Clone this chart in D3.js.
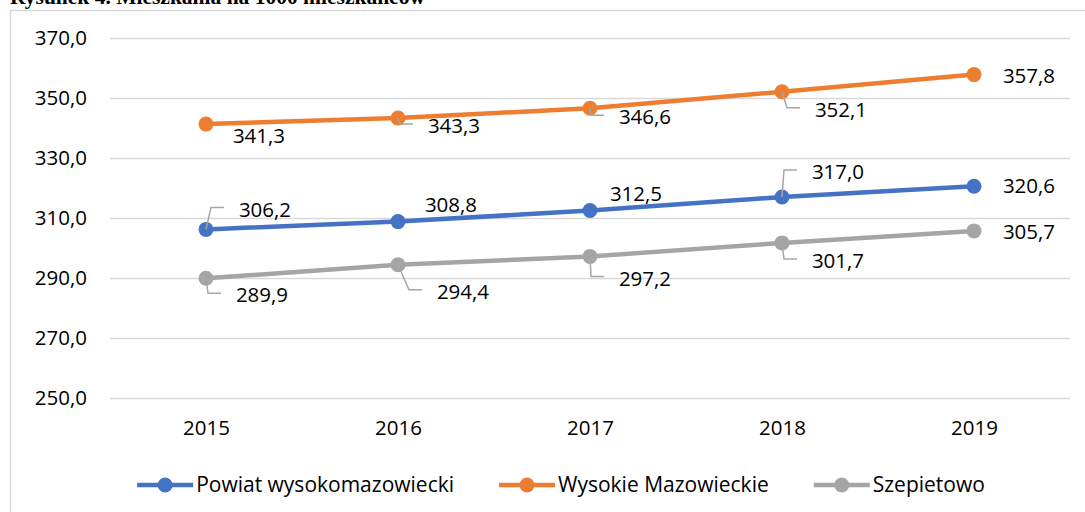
<!DOCTYPE html>
<html lang="pl">
<head>
  <meta charset="UTF-8">
  <title>Mieszkania na 1000 mieszkańców</title>
  <script src="https://d3js.org/d3.v7.min.js"></script>
  <style>
    body { margin: 0; background: #fff; }
    svg { display: block; }
  </style>
</head>
<body>
  <div id="chart"></div>

  <script>
    // data
    const years = ["2015", "2016", "2017", "2018", "2019"];
    const powiat = [306.2, 308.8, 312.5, 317.0, 320.6];
    const wysokie = [341.3, 343.3, 346.6, 352.1, 357.8];
    const szepietowo = [289.9, 294.4, 297.2, 301.7, 305.7];
    const seriesNames = ["Powiat wysokomazowiecki", "Wysokie Mazowieckie", "Szepietowo"];
    const yTicks = [250, 270, 290, 310, 330, 350, 370];

    const width = 1085;
    const height = 512;
    const font = "'Open Sans', sans-serif";
    const fontSize = "20.5px";
    const colors = ["#4472C4", "#ED7D31", "#A5A5A5"];

    // label placement (offset of the label centre from its point, and whether a leader line is drawn)
    const labelPlacement = [
      { off: [[59, -20], [53, -17], [46, -17], [56, -25], [55, 0]], leader: [1, 0, 0, 1, 0] },
      { off: [[53, 12], [56, 8], [55, 9], [59, 18], [55, 1]], leader: [0, 1, 1, 1, 0] },
      { off: [[56, 17], [65, 27], [55, 22], [56, 18], [55, 1]], leader: [1, 1, 1, 1, 0] }
    ];

    const series = [powiat, wysokie, szepietowo].map((vals, i) => ({
      name: seriesNames[i],
      color: colors[i],
      place: labelPlacement[i],
      values: vals.map((v, j) => ({ year: years[j], value: v }))
    }));

    const svg = d3.select("#chart")
      .append("svg")
      .attr("width", width)
      .attr("height", height);

    // title, cut off by the top edge as in the original
    svg.append("text")
      .attr("x", 10)
      .attr("y", 4)
      .style("font-family", "'Liberation Serif', 'Times New Roman', serif")
      .style("font-weight", "bold")
      .style("font-size", "21.5px")
      .text("Rysunek 4. Mieszkania na 1000 mieszkańców");

    // chart area border
    svg.append("rect")
      .attr("x", 10.5)
      .attr("y", 10.5)
      .attr("width", 1100)
      .attr("height", 520)
      .attr("fill", "none")
      .attr("stroke", "#d9d9d9")
      .attr("stroke-width", 1.5);

    const x = d3.scalePoint()
      .domain(years)
      .range([110, 1070])
      .padding(0.5);

    const y = d3.scaleLinear()
      .domain([250, 370])
      .range([398, 38]);

    const fmt = v => d3.format(".1f")(v).replace(".", ",");

    // gridlines and axis labels
    const yAxis = svg.append("g")
      .attr("class", "y axis")
      .attr("transform", "translate(110,0)")
      .call(d3.axisLeft(y).tickValues(yTicks).tickSize(-960).tickPadding(23).tickFormat(fmt));
    yAxis.select(".domain").remove();
    yAxis.selectAll(".tick line")
      .attr("stroke", "#d9d9d9")
      .attr("stroke-width", 1.5);
    yAxis.selectAll(".tick text")
      .style("font-family", font)
      .style("font-size", fontSize)
      .attr("fill", "#000");

    const xAxis = svg.append("g")
      .attr("class", "x axis")
      .attr("transform", "translate(0,398)")
      .call(d3.axisBottom(x).tickSize(0).tickPadding(22));
    xAxis.select(".domain").remove();
    xAxis.selectAll(".tick text")
      .style("font-family", font)
      .style("font-size", fontSize)
      .attr("fill", "#000");

    const line = d3.line()
      .x(d => x(d.year))
      .y(d => y(d.value));

    const g = svg.selectAll(".series")
      .data(series)
      .enter().append("g")
      .attr("class", "series");

    g.append("path")
      .attr("d", d => line(d.values))
      .attr("fill", "none")
      .attr("stroke", d => d.color)
      .attr("stroke-width", 4.5)
      .attr("stroke-linejoin", "round");

    g.selectAll("circle")
      .data(d => d.values.map(v => ({ ...v, color: d.color })))
      .enter().append("circle")
      .attr("cx", d => x(d.year))
      .attr("cy", d => y(d.value))
      .attr("r", 7.5)
      .attr("fill", d => d.color);

    // leader lines and data labels
    const labelW = 54;
    series.forEach(s => {
      s.values.forEach((d, j) => {
        const px = x(d.year), py = y(d.value);
        const [dx, dy] = s.place.off[j];
        if (s.place.leader[j]) {
          const left = dx - labelW / 2;
          svg.append("polyline")
            .attr("points", [[px, py], [px + left - 27, py + dy - 2], [px + left - 14, py + dy - 2]].join(" "))
            .attr("fill", "none")
            .attr("stroke", "#a6a6a6")
            .attr("stroke-width", 1.5);
        }
        svg.append("text")
          .attr("x", px + dx)
          .attr("y", py + dy)
          .attr("dy", "0.35em")
          .attr("text-anchor", "middle")
          .style("font-family", font)
          .style("font-size", fontSize)
          .attr("fill", "#000")
          .text(fmt(d.value));
      });
    });

    // legend
    const legend = svg.append("g").attr("class", "legend");
    let lx = 0;
    series.forEach(s => {
      const item = legend.append("g").attr("transform", `translate(${lx},0)`);
      item.append("line")
        .attr("x1", 0).attr("x2", 56)
        .attr("y1", 0).attr("y2", 0)
        .attr("stroke", s.color)
        .attr("stroke-width", 4.5);
      item.append("circle")
        .attr("cx", 28).attr("cy", 0).attr("r", 7.5)
        .attr("fill", s.color);
      const t = item.append("text")
        .attr("x", 59)
        .attr("dy", "0.35em")
        .style("font-family", font)
        .style("font-size", "21px")
        .attr("fill", "#000")
        .text(s.name);
      lx += 59 + t.node().getComputedTextLength() + 45;
    });
    const legendW = lx - 45;
    legend.attr("transform", `translate(${561 - legendW / 2},485)`);
  </script>
</body>
</html>
